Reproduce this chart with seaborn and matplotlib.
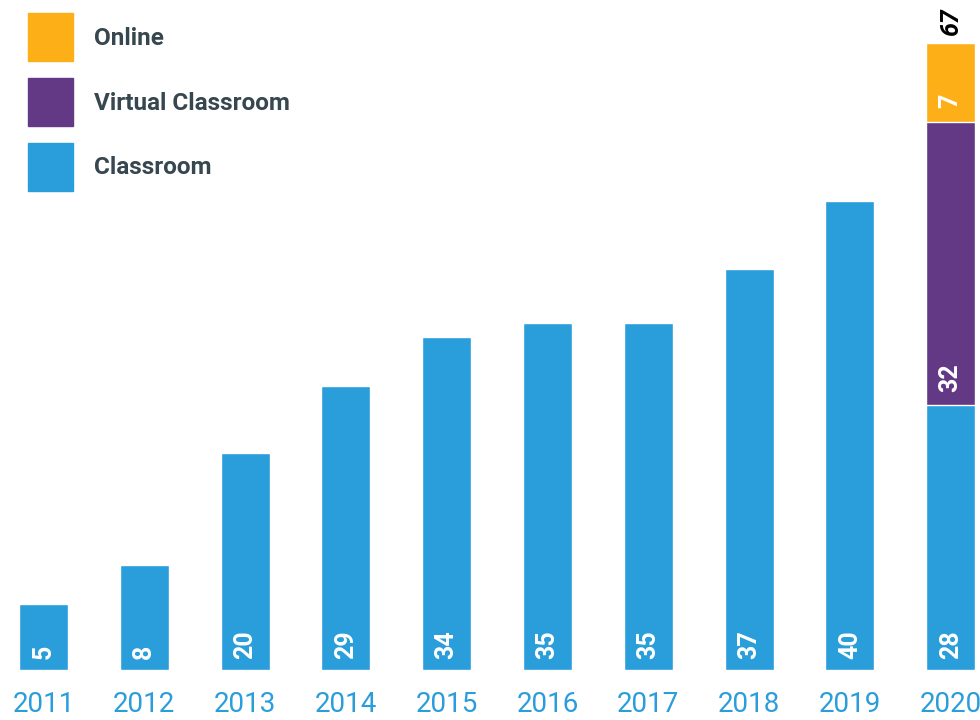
import pandas as pd
import matplotlib.pyplot as plt
import seaborn as sns
from matplotlib.patches import Patch

# ===== DATA ====================================================================
years = ["2011", "2012", "2013", "2014", "2015", "2016", "2017", "2018", "2019", "2020"]
# values printed on the bars
classroom_labels = [5, 8, 20, 29, 34, 35, 35, 37, 40, 28]
virtual_labels = [0, 0, 0, 0, 0, 0, 0, 0, 0, 32]
online_labels = [0, 0, 0, 0, 0, 0, 0, 0, 0, 7]
total_2020 = 67
# drawn bar heights (the original chart is not to scale)
classroom_height = [66, 105, 217, 284, 333, 347, 347, 401, 469, 265]
virtual_height = [0, 0, 0, 0, 0, 0, 0, 0, 0, 283]
online_height = [0, 0, 0, 0, 0, 0, 0, 0, 0, 79]

BLUE = "#2A9DDB"
PURPLE = "#633884"
ORANGE = "#FDAF17"
TEXT = "#37474F"

df = pd.DataFrame({
    "year": years,
    "classroom": classroom_height,
    "virtual": virtual_height,
    "online": online_height,
})
df["cum_virtual"] = df["classroom"] + df["virtual"]
df["cum_online"] = df["cum_virtual"] + df["online"]

# ===== PLOT ====================================================================
sns.set_style("white")
plt.rcParams["font.family"] = ["Roboto", "DejaVu Sans"]

fig = plt.figure(figsize=(9.8, 7.2), dpi=100)
ax = fig.add_axes([0, 50 / 720, 1, 670 / 720])

bw = 0.486
sns.barplot(data=df, x="year", y="cum_online", color=ORANGE, width=bw, ax=ax, saturation=1)
sns.barplot(data=df, x="year", y="cum_virtual", color=PURPLE, width=bw, ax=ax, saturation=1)
sns.barplot(data=df, x="year", y="classroom", color=BLUE, width=bw, ax=ax, saturation=1)

slot = 100.8
ax.set_xlim(-43.5 / slot, (980 - 43.5) / slot)
ax.set_ylim(0, 670)

# value labels
lab_kw = dict(rotation=90, ha="center", va="bottom", color="white",
              fontsize=18, fontweight="bold", textcoords="offset points")
for i in range(len(years)):
    ax.annotate(str(classroom_labels[i]), (i, 0), xytext=(0, 8), **lab_kw)
    if virtual_labels[i]:
        ax.annotate(str(virtual_labels[i]), (i, df["classroom"][i]), xytext=(0, 9), **lab_kw)
    if online_labels[i]:
        ax.annotate(str(online_labels[i]), (i, df["cum_virtual"][i]), xytext=(0, 10), **lab_kw)
ax.annotate(str(total_2020), (len(years) - 1, df["cum_online"].iloc[-1]), xytext=(0, 5),
            textcoords="offset points", rotation=90, ha="center", va="bottom",
            color="black", fontsize=18, fontweight="bold", fontstyle="italic",
            annotation_clip=False)

ax.set_xlabel("")
ax.set_ylabel("")
ax.set_yticks([])
ax.tick_params(axis="x", length=0, pad=15, labelsize=20, labelcolor=BLUE)
sns.despine(ax=ax, left=True, bottom=True)
ax.patch.set_alpha(0)

handles = [Patch(color=ORANGE, label="Online"),
           Patch(color=PURPLE, label="Virtual Classroom"),
           Patch(color=BLUE, label="Classroom")]
leg = fig.legend(handles=handles, loc="upper left", bbox_to_anchor=(0.0092, 1.0083),
                 frameon=False, prop={"size": 17.5, "weight": "bold"},
                 handlelength=1.82, handleheight=2.65, labelspacing=0.7,
                 handletextpad=0.88, borderpad=0.3, borderaxespad=0.5)
for t in leg.get_texts():
    t.set_color(TEXT)

fig.savefig("out.png", dpi=100)
